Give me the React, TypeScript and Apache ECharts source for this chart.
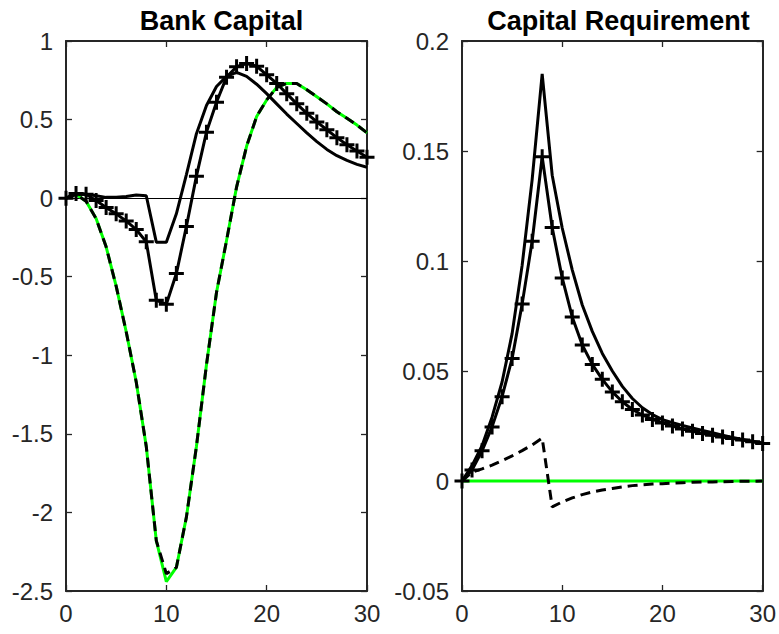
import React, { useEffect, useRef } from "react";
import * as echarts from "echarts";

// Horizon (periods after the shock)
const periods = [0, 1, 2, 3, 4, 5, 6, 7, 8, 9, 10, 11, 12, 13, 14, 15, 16, 17, 18, 19, 20, 21, 22, 23, 24, 25, 26, 27, 28, 29, 30];

// Bank capital responses
const bankCapitalSolid = [0, 0.025, 0.025, 0.015, 0.005, 0.005, 0.01, 0.02, 0.015, -0.28, -0.28, -0.1, 0.15, 0.41, 0.59, 0.71, 0.775, 0.8, 0.775, 0.725, 0.665, 0.6, 0.535, 0.475, 0.415, 0.36, 0.31, 0.27, 0.24, 0.215, 0.197];
const bankCapitalCross = [0, 0.03, 0.025, -0.015, -0.06, -0.1, -0.145, -0.2, -0.278, -0.65, -0.675, -0.48, -0.18, 0.14, 0.42, 0.61, 0.77, 0.836, 0.857, 0.84, 0.785, 0.73, 0.665, 0.6, 0.54, 0.485, 0.435, 0.385, 0.34, 0.3, 0.26];
const bankCapitalGreen = [0, 0.025, -0.02, -0.13, -0.31, -0.56, -0.85, -1.17, -1.58, -2.18, -2.44, -2.35, -2.03, -1.58, -1.06, -0.6, -0.27, 0.07, 0.33, 0.52, 0.625, 0.705, 0.73, 0.73, 0.69, 0.645, 0.6, 0.55, 0.508, 0.465, 0.416];
const bankCapitalDashed = [0, 0.025, -0.02, -0.13, -0.31, -0.56, -0.85, -1.17, -1.58, -2.18, -2.39, -2.35, -2.03, -1.58, -1.06, -0.6, -0.27, 0.07, 0.33, 0.52, 0.625, 0.705, 0.73, 0.73, 0.69, 0.645, 0.6, 0.55, 0.508, 0.465, 0.416];

// Capital requirement responses
const capReqSolid = [0, 0.007, 0.016, 0.029, 0.045, 0.067, 0.098, 0.137, 0.185, 0.139, 0.115, 0.096, 0.08, 0.068, 0.058, 0.05, 0.043, 0.0375, 0.0333, 0.0302, 0.0279, 0.0265, 0.0253, 0.0241, 0.023, 0.0219, 0.0208, 0.0198, 0.0189, 0.0181, 0.0173];
const capReqCross = [0, 0.005, 0.0137, 0.0246, 0.0383, 0.0557, 0.0804, 0.109, 0.1474, 0.1152, 0.0923, 0.0746, 0.0618, 0.053, 0.0462, 0.0405, 0.036, 0.0325, 0.03, 0.028, 0.0264, 0.025, 0.0236, 0.0226, 0.0216, 0.0208, 0.02, 0.0193, 0.0186, 0.0178, 0.017];
const capReqGreen = [0, 0, 0, 0, 0, 0, 0, 0, 0, 0, 0, 0, 0, 0, 0, 0, 0, 0, 0, 0, 0, 0, 0, 0, 0, 0, 0, 0, 0, 0, 0];
const capReqDashed = [0, 0.004, 0.0055, 0.0072, 0.0092, 0.0114, 0.0138, 0.0164, 0.0195, -0.0118, -0.0095, -0.0077, -0.0062, -0.005, -0.0041, -0.0034, -0.0027, -0.0021, -0.0017, -0.0014, -0.0012, -0.001, -0.0008, -0.0006, -0.0005, -0.0004, -0.0003, -0.0002, -0.0001, -0.0001, 0];

const panelTitles = ["Bank Capital", "Capital Requirement"];

const FONT = "Liberation Sans, Arial, Helvetica, sans-serif";
const AXIS_COLOR = "#262626";
const PLUS = "path://M0,6H15V9H0Z M6,0H9V15H6Z";

const pair = (ys: number[]) => periods.map((x, i) => [x, ys[i]]);

function axisBase(showLabels: boolean, margin = 8) {
  return {
    axisLine: { show: true, onZero: false, lineStyle: { color: AXIS_COLOR, width: 2 } },
    axisTick: { show: true, inside: true, length: 6, lineStyle: { color: AXIS_COLOR, width: 1.3 } },
    splitLine: { show: false },
    axisLabel: {
      show: showLabels,
      color: AXIS_COLOR,
      fontSize: 24,
      fontFamily: FONT,
      margin,
    },
  };
}

function xAxes(gridIndex: number) {
  const common = { type: "value", gridIndex, min: 0, max: 30, interval: 10 };
  return [
    { ...common, position: "bottom", ...axisBase(true, 10) },
    { ...common, position: "top", ...axisBase(false) },
  ];
}

function yAxes(gridIndex: number, min: number, max: number, interval: number) {
  const common = { type: "value", gridIndex, min, max, interval };
  return [
    { ...common, position: "left", ...axisBase(true, 13) },
    { ...common, position: "right", ...axisBase(false) },
  ];
}

function lineSeries(
  data: number[],
  axisIndex: number,
  color: string,
  opts: { dashed?: boolean; plus?: boolean; zeroLine?: boolean } = {}
) {
  const s: any = {
    type: "line",
    xAxisIndex: axisIndex,
    yAxisIndex: axisIndex,
    data: pair(data),
    lineStyle: { color, width: 3, type: opts.dashed ? [10, 6] : "solid" },
    itemStyle: { color },
    symbol: opts.plus ? PLUS : "none",
    symbolSize: 15,
    showSymbol: !!opts.plus,
    showAllSymbol: true,
    smooth: false,
    z: 3,
  };
  if (opts.zeroLine) {
    s.markLine = {
      silent: true,
      symbol: "none",
      label: { show: false },
      lineStyle: { color: "#000", width: 1, type: "solid" },
      data: [{ yAxis: 0 }],
      z: 1,
    };
  }
  return s;
}

export default function App() {
  const ref = useRef<HTMLDivElement>(null);

  useEffect(() => {
    if (!ref.current) return;
    const chart = echarts.init(ref.current, undefined, { renderer: "svg" });
    const grids = [
      { left: 66, top: 41, width: 301, height: 550 },
      { left: 462, top: 41, width: 303, height: 550 },
    ];
    chart.setOption({
      animation: false,
      backgroundColor: "#ffffff",
      title: panelTitles.map((text, i) => ({
        text,
        left: grids[i].left + grids[i].width / 2,
        top: 2,
        textAlign: "center",
        textStyle: { fontSize: 27, fontWeight: "bold", color: "#000", fontFamily: FONT },
      })),
      grid: grids,
      // axes 0,1: left panel (bottom/top, left/right); axes 2,3: right panel
      xAxis: [...xAxes(0), ...xAxes(1)],
      yAxis: [...yAxes(0, -2.5, 1, 0.5), ...yAxes(1, -0.05, 0.2, 0.05)],
      series: [
        lineSeries(bankCapitalGreen, 0, "#00ff00", { zeroLine: true }),
        lineSeries(bankCapitalDashed, 0, "#000", { dashed: true }),
        lineSeries(bankCapitalCross, 0, "#000", { plus: true }),
        lineSeries(bankCapitalSolid, 0, "#000"),
        lineSeries(capReqGreen, 2, "#00ff00"),
        lineSeries(capReqDashed, 2, "#000", { dashed: true }),
        lineSeries(capReqCross, 2, "#000", { plus: true }),
        lineSeries(capReqSolid, 2, "#000"),
      ],
    });
    return () => chart.dispose();
  }, []);

  return (
    <div
      ref={ref}
      style={{ position: "absolute", left: 0, top: 0, width: 779, height: 634, background: "#fff" }}
    />
  );
}
